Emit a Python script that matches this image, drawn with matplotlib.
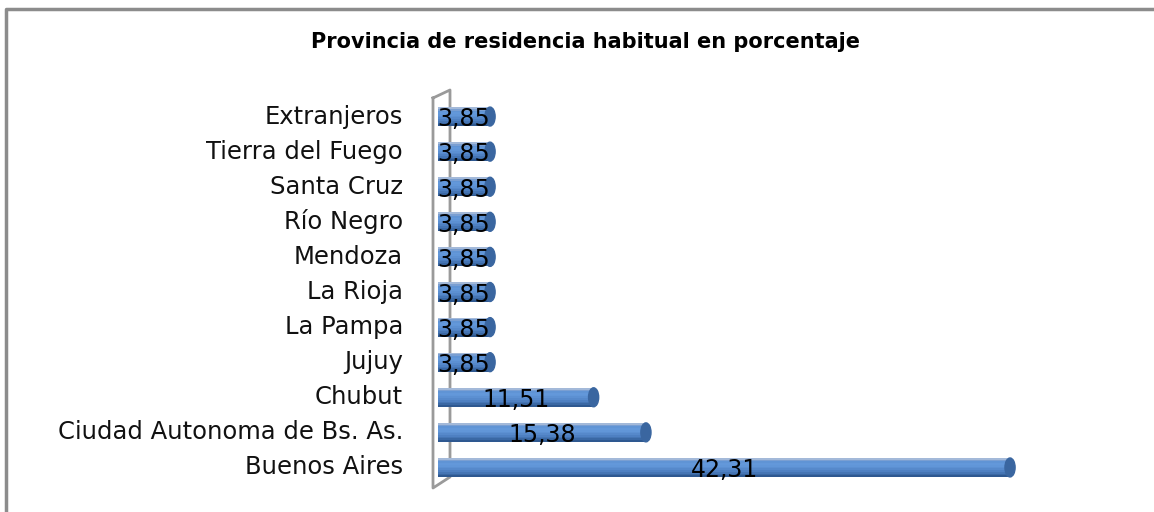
import matplotlib.pyplot as plt
from matplotlib.patches import Ellipse
from matplotlib.lines import Line2D

# Data (bottom to top)
provincias = ['Buenos Aires', 'Ciudad Autonoma de Bs. As.', 'Chubut', 'Jujuy',
              'La Pampa', 'La Rioja', 'Mendoza', 'Río Negro', 'Santa Cruz',
              'Tierra del Fuego', 'Extranjeros']
porcentajes = [42.31, 15.38, 11.51, 3.85, 3.85, 3.85, 3.85, 3.85, 3.85, 3.85, 3.85]
etiquetas = ['42,31', '15,38', '11,51', '3,85', '3,85', '3,85', '3,85', '3,85',
             '3,85', '3,85', '3,85']

W, H = 1154, 512
fig = plt.figure(figsize=(W / 100, H / 100), dpi=100)
fig.patch.set_facecolor('white')

# axes placed so that 0 sits at x=438 px and rows span y=99..485 px
scale = 13.52  # px per unit
ax = fig.add_axes([438 / W, (H - 485) / H, 662 / W, 386 / H])
ax.set_xlim(0, 662 / scale)
ax.set_ylim(-0.5, len(provincias) - 0.5)
ax.axis('off')

y = list(range(len(provincias)))
bh = 0.54

# cylinder shading, bottom slice to top slice
shades = ['#2E5890', '#3A68A4', '#4575B4', '#4E80C2', '#5689CB', '#5C90D2',
          '#6196D8', '#6398DA', '#6094D5', '#7A9FD2', '#A3B9D9']
n = len(shades)
for k, c in enumerate(shades):
    off = -bh / 2 + (k + 0.5) * bh / n
    ax.barh([i + off for i in y], porcentajes, height=bh / n * 1.05, color=c,
            edgecolor='none', zorder=3)
for i, v in enumerate(porcentajes):
    ax.add_patch(Ellipse((v, i), width=0.75, height=bh, color='#3A66A0', zorder=4))
    ax.text(v / 2, i - 0.08, etiquetas[i], ha='center', va='center',
            fontsize=17, family='DejaVu Sans', color='black', zorder=5)

# category labels
for i, p in enumerate(provincias):
    ax.text(-35 / scale, i, p, ha='right', va='center', fontsize=17.5,
            family='DejaVu Sans', color='#111111')

# 3D wall outline (gray), behind the bars
def px(x, yy):
    return (x / W, 1 - yy / H)

wall = [(433, 98), (450, 90), (450, 477), (433, 488), (433, 98)]
xs = [px(a, b)[0] for a, b in wall]
ys = [px(a, b)[1] for a, b in wall]
fig.add_artist(Line2D(xs, ys, color='#9A9A9A', lw=2, zorder=-1))

# chart frame
fig.add_artist(Line2D([6 / W, 6 / W, 1], [0, 1 - 9 / H, 1 - 9 / H],
                      color='#8C8C8C', lw=2.5))

fig.text(585 / W, 1 - 42 / H, 'Provincia de residencia habitual en porcentaje',
         ha='center', va='center', fontsize=15, fontweight='bold',
         family='DejaVu Sans')

fig.savefig('out.png', dpi=100, facecolor='white')
